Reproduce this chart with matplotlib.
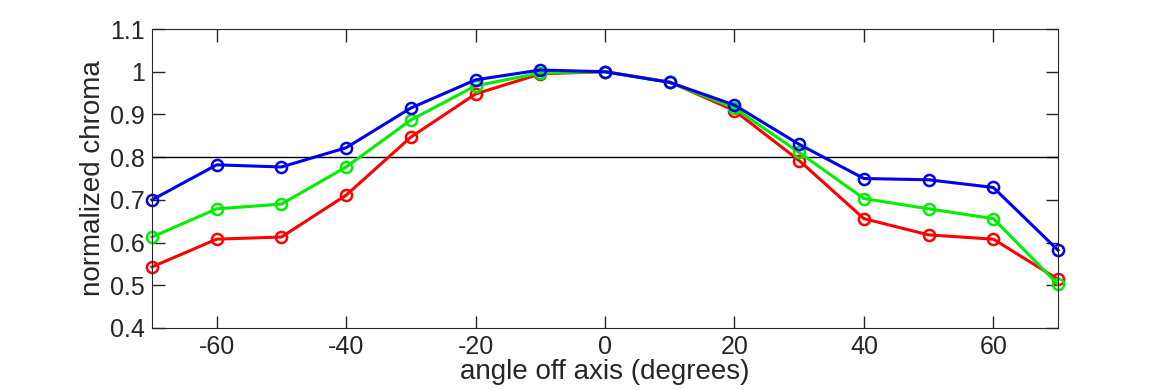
import matplotlib
matplotlib.use("Agg")
import matplotlib.pyplot as plt

angles = [-70, -60, -50, -40, -30, -20, -10, 0, 10, 20, 30, 40, 50, 60, 70]
red = [0.543, 0.608, 0.613, 0.711, 0.847, 0.948, 0.995, 1.0, 0.976, 0.909, 0.792, 0.656, 0.618, 0.608, 0.514]
green = [0.613, 0.679, 0.690, 0.777, 0.887, 0.967, 0.997, 1.0, 0.975, 0.915, 0.811, 0.703, 0.679, 0.656, 0.502]
blue = [0.700, 0.782, 0.777, 0.822, 0.915, 0.981, 1.004, 1.0, 0.975, 0.922, 0.830, 0.750, 0.747, 0.729, 0.582]
threshold = 0.8
xticks = [-60, -40, -20, 0, 20, 40, 60]
yticks = [0.4, 0.5, 0.6, 0.7, 0.8, 0.9, 1.0, 1.1]

plt.rcParams['font.family'] = ['Liberation Sans', 'DejaVu Sans']

fig = plt.figure(figsize=(11.7, 3.9), dpi=100)
ax = fig.add_axes([0.1299, 0.159, 0.7744, 0.7666])

ax.axhline(threshold, color='black', lw=1.0)
for vals, col in ((red, '#ff0000'), (green, '#00ee00'), (blue, '#0000ee')):
    ax.plot(angles, vals, color=col, lw=2.2, marker='o', ms=8,
            mfc='none', mec=col, mew=1.8, clip_on=False)

ax.set_xlim(-70, 70)
ax.set_ylim(0.4, 1.1)
ax.set_xticks(xticks)
ax.set_xticklabels([str(t) for t in xticks])  # plain hyphen minus
ax.set_yticks(yticks)
ax.set_yticklabels(['%g' % t for t in yticks])
ax.tick_params(direction='in', length=9, width=1, top=True, right=True,
               labelsize=18, colors='#262626', pad=5)
for s in ax.spines.values():
    s.set_color('#262626')
ax.set_xlabel('angle off axis (degrees)', fontsize=20, color='#262626', labelpad=0)
ax.set_ylabel('normalized chroma', fontsize=20, color='#262626', labelpad=3)

fig.savefig('out.png', dpi=100)
